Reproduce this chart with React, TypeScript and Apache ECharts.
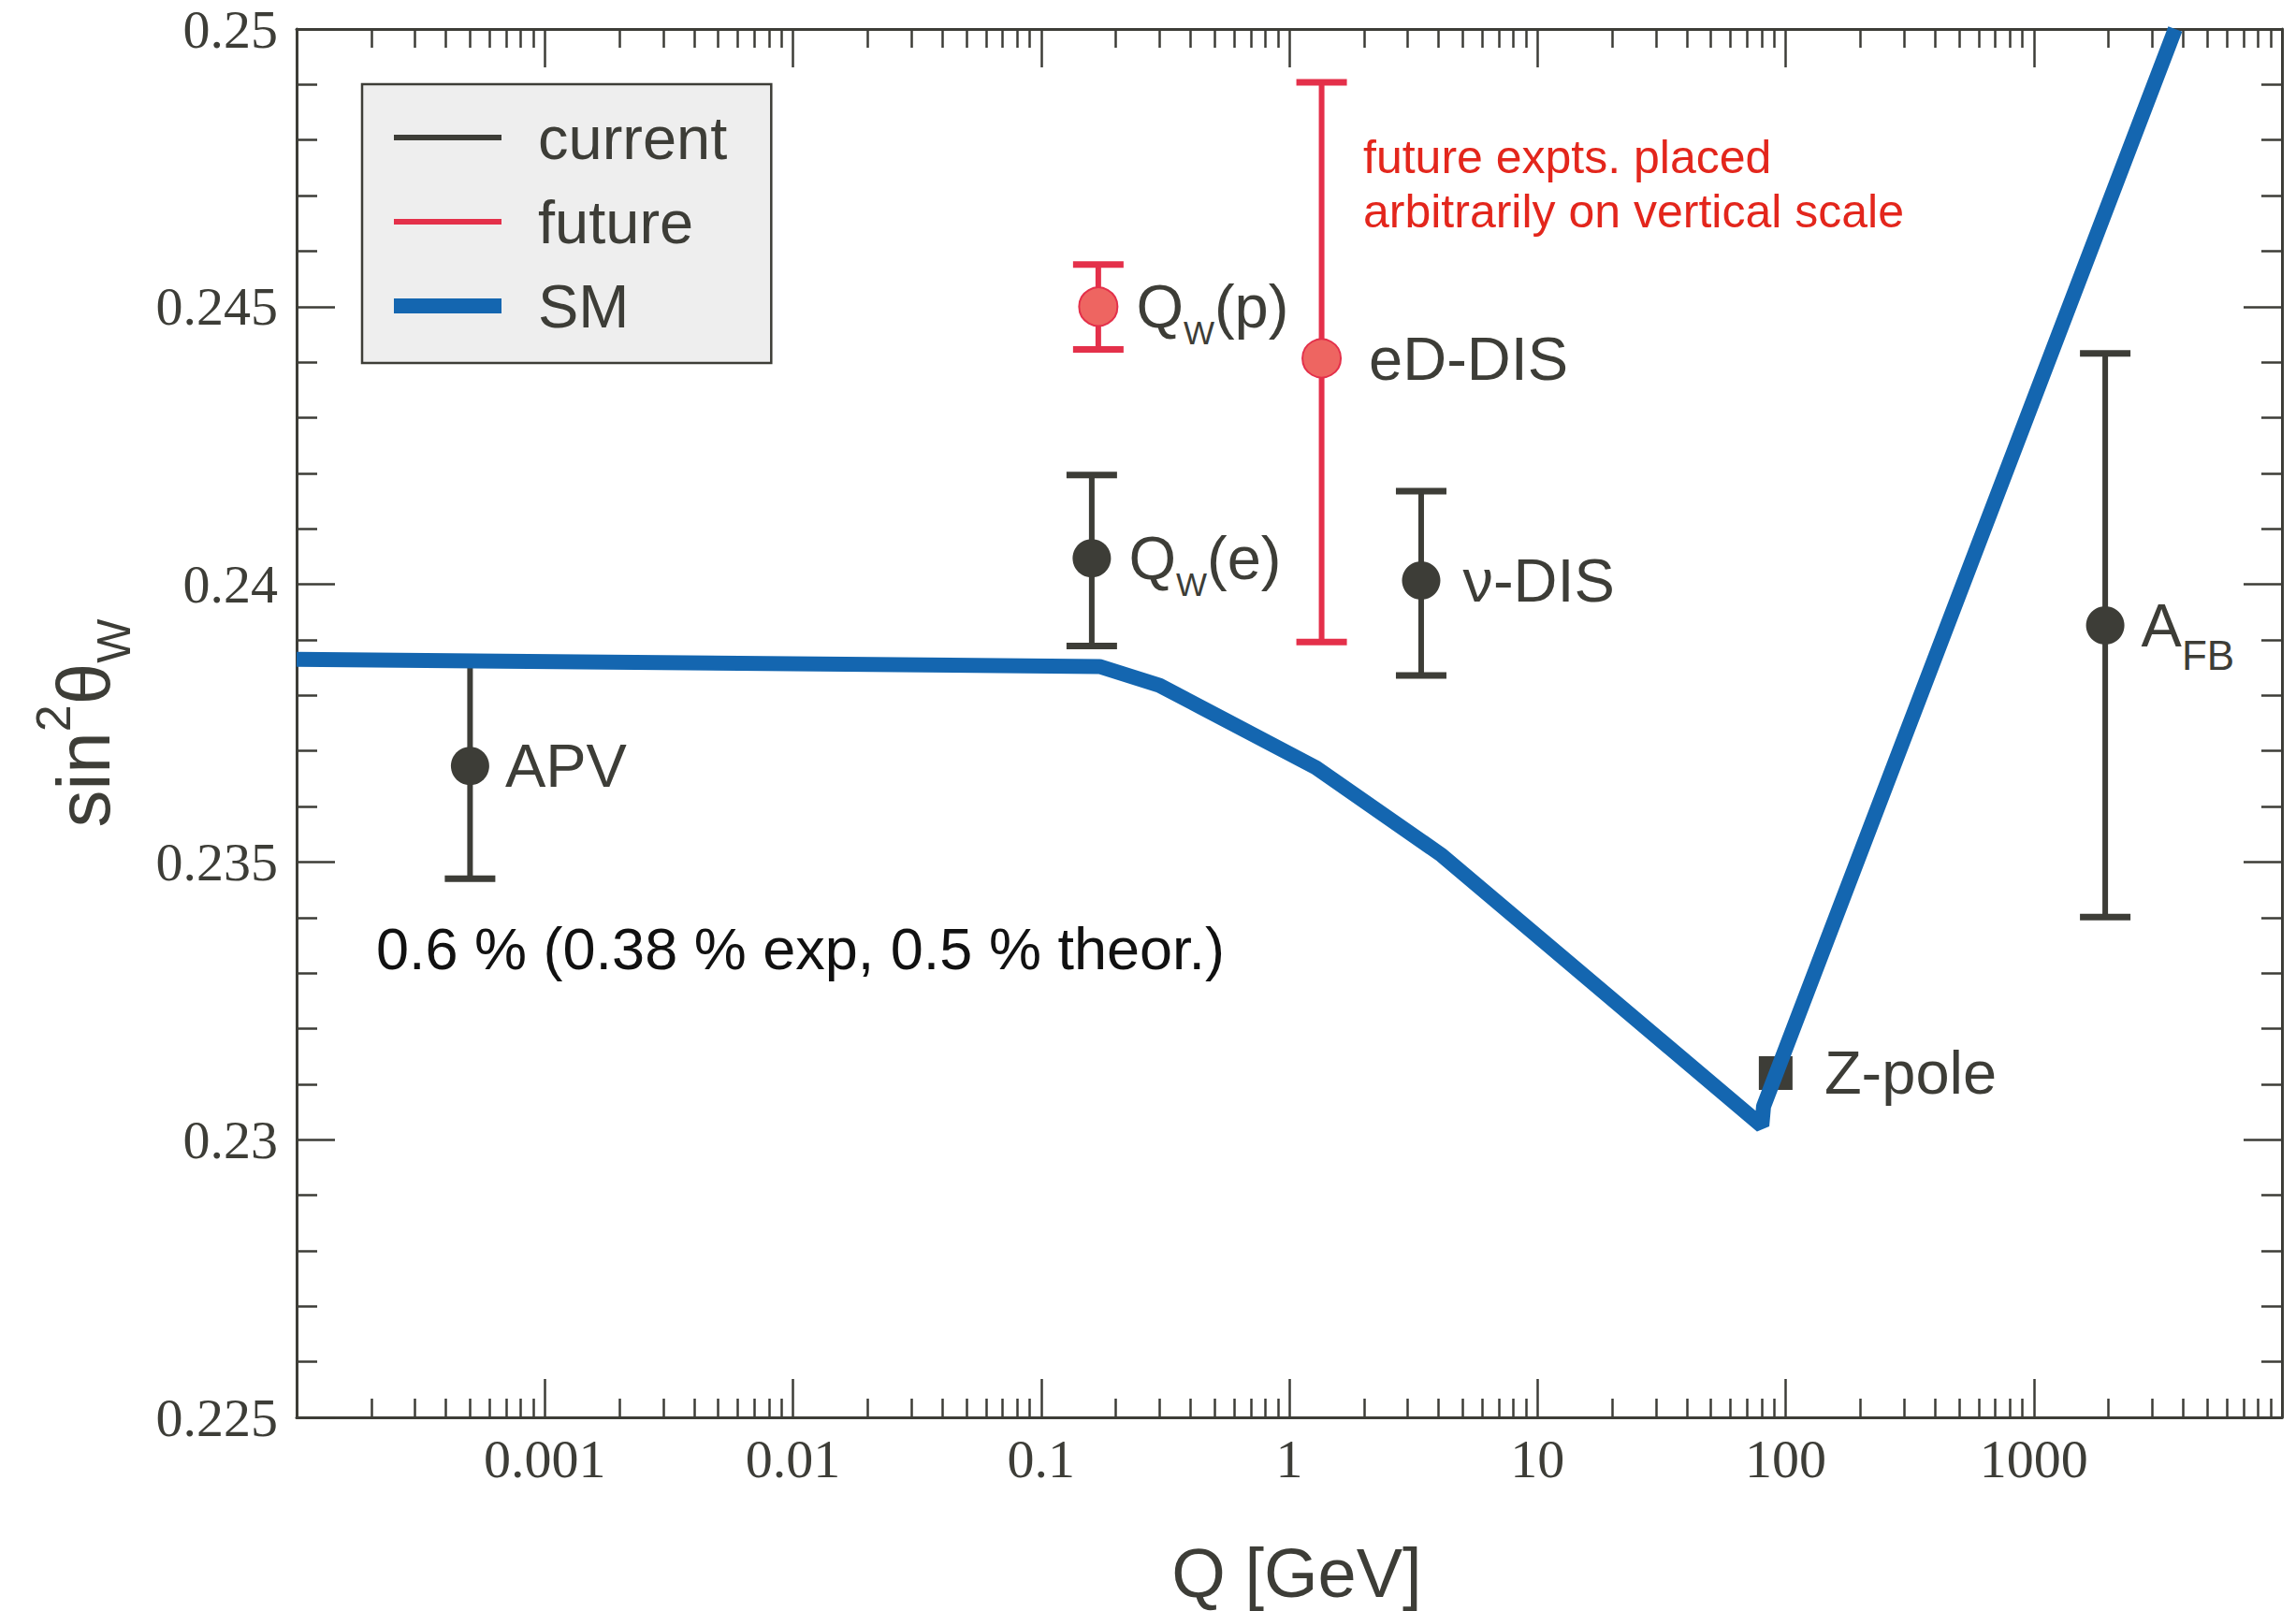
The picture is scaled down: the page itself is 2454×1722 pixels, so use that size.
import React, { useEffect, useRef } from 'react';
import * as echarts from 'echarts';

const INK = '#3d3d37';
const RED = '#e4304a';
const RED_FILL = '#ee6561';
const BLUE = '#1466b0';
const NOTE_RED = '#e3261c';
const SANS = '"Liberation Sans", Arial, sans-serif';
const SERIF = '"Liberation Serif", "Times New Roman", serif';

// Standard-Model running curve
const smQ = [0.0001, 0.172, 0.3, 1.28, 4.12, 80.2, 81.5, 3715];
const smS = [0.23865, 0.23852, 0.23818, 0.2367, 0.23512, 0.23025, 0.2306, 0.25];

// current measurements
const curLabels = ['{m|APV}', '{m|Q}{s|W}{m|(e)}', '{m|ν-DIS}', '{mb|A}{sb|FB}'];
const curQ = [0.0005, 0.16, 3.4, 1940];
const curS = [0.23673, 0.24047, 0.24007, 0.23926];
const curLo = [0.2347, 0.23889, 0.23836, 0.23401];
const curHi = [0.2386, 0.24197, 0.24168, 0.24416];
const curDist = [17, 19, 24, 18];

// Z-pole
const zLabels = ['{m|Z-pole}'];
const zQ = [91.19];
const zS = [0.2312];

// future experiments
const futLabels = ['{m|Q}{s|W}{m|(p)}', '{m|eD-DIS}'];
const futQ = [0.17, 1.35];
const futS = [0.245, 0.24407];
const futLo = [0.24423, 0.23896];
const futHi = [0.24576, 0.24904];
const futDist = [19, 29];

// axis ticks
const xMin = 0.0001;
const xMax = 10000;
const yMin = 0.225;
const yMax = 0.25;
const yStep = 0.005;
const xMinorTicks: number[] = [];
for (let e = -4; e < 4; e++) {
  for (let m = 2; m <= 9; m++) xMinorTicks.push(+(m * Math.pow(10, e)).toPrecision(3));
}

const legendNames = ['current', 'future', 'SM'];

const labelRich = {
  m: { fontSize: 65, lineHeight: 90, fontFamily: SANS, color: INK, opacity: 1 },
  s: { fontSize: 35, lineHeight: 30, verticalAlign: 'bottom', fontFamily: SANS, color: INK, opacity: 1 },
  mb: { fontSize: 65, lineHeight: 108, fontFamily: SANS, color: INK, opacity: 1 },
  sb: { fontSize: 44, lineHeight: 40, verticalAlign: 'bottom', fontFamily: SANS, color: INK, opacity: 1 },
};

const errorBar = (capHalf: number, barW: number, capW: number) => (params: any, api: any) => {
  const x = api.value(0);
  const bot = api.coord([x, api.value(1)]);
  const top = api.coord([x, api.value(2)]);
  const color = api.visual('color');
  return {
    type: 'group',
    children: [
      { type: 'line', shape: { x1: top[0], y1: top[1], x2: bot[0], y2: bot[1] }, style: { stroke: color, lineWidth: barW } },
      { type: 'line', shape: { x1: top[0] - capHalf, y1: top[1], x2: top[0] + capHalf, y2: top[1] }, style: { stroke: color, lineWidth: capW } },
      { type: 'line', shape: { x1: bot[0] - capHalf, y1: bot[1], x2: bot[0] + capHalf, y2: bot[1] }, style: { stroke: color, lineWidth: capW } },
    ],
  };
};

const xFmt = (v: number) => String(+Number(v).toPrecision(4));
const yFmt = (v: number) => String(+Number(v).toFixed(3));

const baseX = {
  type: 'log',
  logBase: 10,
  min: xMin,
  max: xMax,
  splitLine: { show: false },
  minorSplitLine: { show: false },
};

function buildOption() {
  return {
    animation: false,
    backgroundColor: '#ffffff',
    textStyle: { fontFamily: SANS },
    grid: { left: 317, right: 15, top: 31, bottom: 207, containLabel: false, outerBoundsMode: 'none' },
    legend: {
      left: 387,
      top: 90,
      orient: 'vertical',
      align: 'left',
      selectedMode: false,
      data: [
        { name: legendNames[0], icon: 'path://M0,0H115V6H0Z' },
        { name: legendNames[1], icon: 'path://M0,0H115V6H0Z' },
        { name: legendNames[2], icon: 'path://M0,0H115V16H0Z' },
      ],
      itemWidth: 115,
      itemHeight: 20,
      itemGap: 20,
      padding: [22, 47, 26, 34],
      backgroundColor: '#eeeeee',
      borderColor: INK,
      borderWidth: 2.5,
      borderRadius: 0,
      itemStyle: { borderWidth: 0 },
      textStyle: { fontSize: 65, lineHeight: 70, fontFamily: SANS, color: INK, padding: [0, 0, 0, 34] },
    },
    xAxis: [
      {
        ...baseX,
        position: 'bottom',
        axisLine: { show: true, onZero: false, lineStyle: { color: INK, width: 3 } },
        axisTick: { show: true, inside: true, length: 41, lineStyle: { color: INK, width: 2.5 } },
        axisLabel: {
          show: true,
          showMinLabel: false,
          showMaxLabel: false,
          margin: 15,
          fontSize: 58,
          lineHeight: 58,
          fontFamily: SERIF,
          color: INK,
          formatter: xFmt,
        },
        name: 'Q [GeV]',
        nameLocation: 'middle',
        nameGap: 129,
        nameTextStyle: { fontSize: 74, lineHeight: 74, fontFamily: SANS, color: INK, padding: [0, 0, 0, 16] },
      },
      {
        ...baseX,
        position: 'bottom',
        axisLine: { show: false },
        axisTick: { show: true, inside: true, length: 20, customValues: xMinorTicks, lineStyle: { color: INK, width: 2.5 } },
        axisLabel: { show: false },
      },
      {
        ...baseX,
        position: 'top',
        axisLine: { show: true, onZero: false, lineStyle: { color: INK, width: 3 } },
        axisTick: { show: true, inside: true, length: 41, lineStyle: { color: INK, width: 2.5 } },
        axisLabel: { show: false },
      },
      {
        ...baseX,
        position: 'top',
        axisLine: { show: false },
        axisTick: { show: true, inside: true, length: 20, customValues: xMinorTicks, lineStyle: { color: INK, width: 2.5 } },
        axisLabel: { show: false },
      },
    ],
    yAxis: [
      {
        type: 'value',
        min: yMin,
        max: yMax,
        interval: yStep,
        position: 'left',
        axisLine: { show: true, onZero: false, lineStyle: { color: INK, width: 3 } },
        axisTick: { show: true, inside: true, length: 41, lineStyle: { color: INK, width: 2.5 } },
        minorTick: { show: true, splitNumber: 5, length: 22, lineStyle: { color: INK, width: 2.5 } },
        axisLabel: { show: true, margin: 20, fontSize: 58, fontFamily: SERIF, color: INK, formatter: yFmt },
        splitLine: { show: false },
        minorSplitLine: { show: false },
        name: '{m|sin}{p|2}{m|θ}{b|W}',
        nameLocation: 'middle',
        nameRotate: 90,
        nameGap: 170,
        nameTextStyle: {
          color: INK,
          rich: {
            m: { fontSize: 80, lineHeight: 116, fontFamily: SANS, color: INK },
            p: { fontSize: 52, lineHeight: 20, verticalAlign: 'top', fontFamily: SANS, color: INK },
            b: { fontSize: 50, lineHeight: 50, verticalAlign: 'bottom', fontFamily: SANS, color: INK },
          },
        },
      },
      {
        type: 'value',
        min: yMin,
        max: yMax,
        interval: yStep,
        position: 'right',
        axisLine: { show: true, onZero: false, lineStyle: { color: INK, width: 3 } },
        axisTick: { show: true, inside: true, length: 41, lineStyle: { color: INK, width: 2.5 } },
        minorTick: { show: true, splitNumber: 5, length: 22, lineStyle: { color: INK, width: 2.5 } },
        axisLabel: { show: false },
        splitLine: { show: false },
        minorSplitLine: { show: false },
      },
    ],
    series: [
      {
        name: 'SM',
        type: 'line',
        xAxisIndex: 0,
        yAxisIndex: 0,
        data: smQ.map((q, i) => [q, smS[i]]),
        symbol: 'none',
        clip: true,
        itemStyle: { color: BLUE },
        lineStyle: { color: BLUE, width: 16 },
      },
      {
        name: 'current',
        type: 'custom',
        xAxisIndex: 0,
        yAxisIndex: 0,
        itemStyle: { color: INK },
        encode: { x: 0, y: [1, 2] },
        data: curQ.map((q, i) => [q, curLo[i], curHi[i]]),
        renderItem: errorBar(27, 6, 7),
      },
      {
        name: 'future',
        type: 'custom',
        xAxisIndex: 0,
        yAxisIndex: 0,
        itemStyle: { color: RED },
        encode: { x: 0, y: [1, 2] },
        data: futQ.map((q, i) => [q, futLo[i], futHi[i]]),
        renderItem: errorBar(27, 6, 7),
      },
      {
        name: 'current points',
        type: 'scatter',
        xAxisIndex: 0,
        yAxisIndex: 0,
        symbol: 'circle',
        symbolSize: 41,
        itemStyle: { color: INK, opacity: 1 },
        data: curQ.map((q, i) => ({ value: [q, curS[i]], label: { distance: curDist[i] } })),
        label: {
          show: true,
          position: 'right',
          color: INK,
          opacity: 1,
          formatter: (p: any) => curLabels[p.dataIndex],
          rich: labelRich,
        },
      },
      {
        name: 'Z-pole',
        type: 'scatter',
        xAxisIndex: 0,
        yAxisIndex: 0,
        symbol: 'rect',
        symbolSize: 36,
        itemStyle: { color: INK, opacity: 1 },
        data: zQ.map((q, i) => [q, zS[i]]),
        label: {
          show: true,
          position: 'right',
          distance: 34,
          color: INK,
          opacity: 1,
          formatter: (p: any) => zLabels[p.dataIndex],
          rich: labelRich,
        },
      },
      {
        name: 'future points',
        type: 'scatter',
        xAxisIndex: 0,
        yAxisIndex: 0,
        symbol: 'circle',
        symbolSize: 41,
        itemStyle: { color: RED_FILL, borderColor: RED, borderWidth: 2, opacity: 1 },
        data: futQ.map((q, i) => ({ value: [q, futS[i]], label: { distance: futDist[i] } })),
        label: {
          show: true,
          position: 'right',
          color: INK,
          opacity: 1,
          formatter: (p: any) => futLabels[p.dataIndex],
          rich: labelRich,
        },
      },
    ],
    graphic: [
      {
        type: 'text',
        left: 1457,
        top: 139,
        style: {
          text: 'future expts. placed\narbitrarily on vertical scale',
          fontSize: 50,
          lineHeight: 58,
          fontFamily: SANS,
          fill: NOTE_RED,
        },
      },
      {
        type: 'text',
        left: 402,
        top: 982,
        style: {
          text: '0.6 % (0.38 % exp, 0.5 % theor.)',
          fontSize: 63,
          lineHeight: 63,
          fontFamily: SANS,
          fill: '#111111',
        },
      },
    ],
  };
}

export default function App() {
  const ref = useRef<HTMLDivElement>(null);
  useEffect(() => {
    document.body.style.margin = '0';
    if (!ref.current) return;
    const chart = echarts.init(ref.current, undefined, { renderer: 'svg' });
    chart.setOption(buildOption() as any);
    return () => chart.dispose();
  }, []);
  return <div ref={ref} style={{ width: 2454, height: 1722 }} />;
}
